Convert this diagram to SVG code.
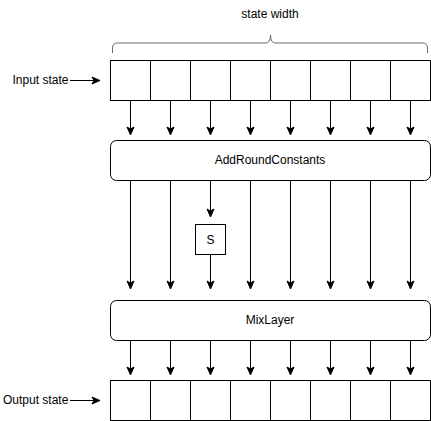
<svg xmlns="http://www.w3.org/2000/svg" width="431" height="421" viewBox="0 0 431 421">
<defs>
<style>
text{font-family:"Liberation Sans",Arial,sans-serif;font-size:12px;fill:#000}
.c{text-anchor:middle}
.box{fill:#fff;stroke:#000;stroke-width:1}
.e{stroke:#000;stroke-width:1;fill:none;marker-end:url(#ah)}
</style>
<marker id="ah" markerUnits="userSpaceOnUse" markerWidth="10" markerHeight="10" refX="9" refY="5" orient="auto">
<path d="M1,1.5 L9,5 L1,8.5 L3,5 Z" fill="#000" stroke="#000" stroke-width="1"/>
</marker>
</defs>
<rect width="431" height="421" fill="#fff"/>
<g id="title"><text class="c" x="270" y="18">state width</text></g>
<g id="brace"><path d="M112.5,53 L112.5,48 Q112.5,43 117.5,43 L265.5,43 Q270.5,43 270.5,35 Q270.5,43 275.5,43 L422.5,43 Q427.5,43 427.5,48 L427.5,53" fill="none" stroke="#666" stroke-width="1"/></g>
<g id="input-label"><text x="12.5" y="84">Input state</text></g>
<g id="output-label"><text x="3" y="404">Output state</text></g>
<g id="input-state">
<rect class="box" x="110.5" y="60.5" width="320" height="40"/>
<path d="M150.5,60.5V100.5M190.5,60.5V100.5M230.5,60.5V100.5M270.5,60.5V100.5M310.5,60.5V100.5M350.5,60.5V100.5M390.5,60.5V100.5" stroke="#000"/>
</g>
<g id="arc"><rect class="box" x="110.5" y="140.5" width="320" height="40" rx="6"/><text class="c" x="270" y="164">AddRoundConstants</text></g>
<g id="sbox"><rect class="box" x="195.5" y="224.5" width="30" height="30"/><text class="c" x="210.5" y="244">S</text></g>
<g id="mix"><rect class="box" x="110.5" y="300.5" width="320" height="40" rx="6"/><text class="c" x="270" y="324">MixLayer</text></g>
<g id="output-state">
<rect class="box" x="110.5" y="380.5" width="320" height="40"/>
<path d="M150.5,380.5V420.5M190.5,380.5V420.5M230.5,380.5V420.5M270.5,380.5V420.5M310.5,380.5V420.5M350.5,380.5V420.5M390.5,380.5V420.5" stroke="#000"/>
</g>
<g id="connectors">
<path class="e" d="M70,80.5H100"/>
<path class="e" d="M70,400.5H100"/>
<path class="e" d="M130.5,100.5V135"/><path class="e" d="M170.5,100.5V135"/><path class="e" d="M210.5,100.5V135"/><path class="e" d="M250.5,100.5V135"/><path class="e" d="M290.5,100.5V135"/><path class="e" d="M330.5,100.5V135"/><path class="e" d="M370.5,100.5V135"/><path class="e" d="M410.5,100.5V135"/>
<path class="e" d="M130.5,180.5V289"/><path class="e" d="M170.5,180.5V289"/><path class="e" d="M210.5,180.5V217"/><path class="e" d="M210.5,254.5V289"/><path class="e" d="M250.5,180.5V289"/><path class="e" d="M290.5,180.5V289"/><path class="e" d="M330.5,180.5V289"/><path class="e" d="M370.5,180.5V289"/><path class="e" d="M410.5,180.5V289"/>
<path class="e" d="M130.5,340.5V375"/><path class="e" d="M170.5,340.5V375"/><path class="e" d="M210.5,340.5V375"/><path class="e" d="M250.5,340.5V375"/><path class="e" d="M290.5,340.5V375"/><path class="e" d="M330.5,340.5V375"/><path class="e" d="M370.5,340.5V375"/><path class="e" d="M410.5,340.5V375"/>
</g>
</svg>
